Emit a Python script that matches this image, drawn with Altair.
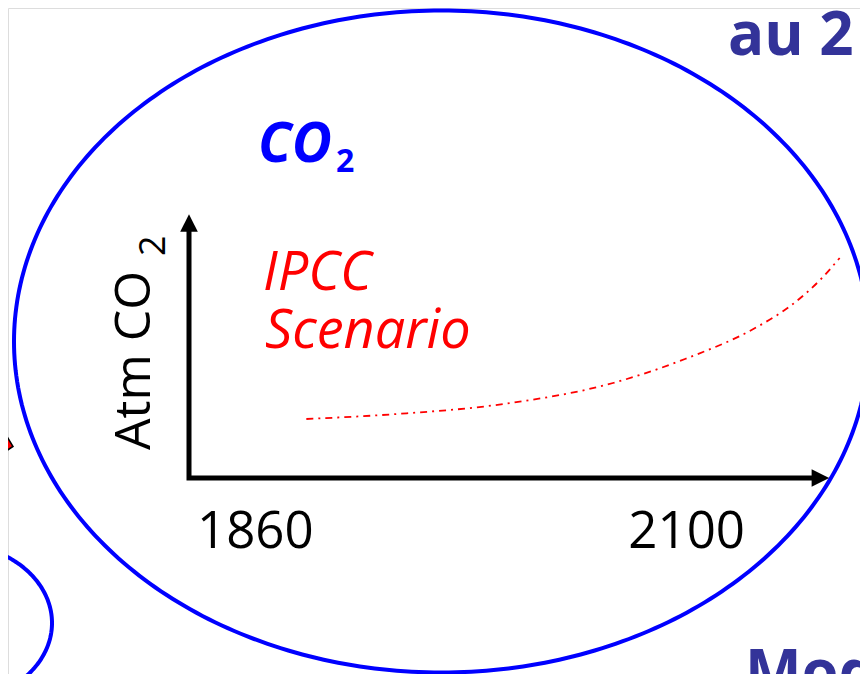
import altair as alt
import numpy as np
import pandas as pd

# ---------------- data ----------------
years = [1904, 1938, 1978, 2019, 2046, 2073, 2086, 2097, 2104]
co2_ppm = [318, 328, 348, 390, 438, 502, 546, 598, 640]
x_tick_labels = ["1860", "2100"]
y_title = ["Atm CO", "2"]
panel_title = ["CO", "2"]
curve_label = ["IPCC", "Scenario"]
slide_fragments = ["au 2", "Mod"]

# ---------------- layout ----------------
W, H = 852, 666
M = 8                      # page margin: reference pixel = chart pixel + M
ORIGIN_PX = (189, 478)     # axis origin in reference pixels
ORIGIN = (1860, 200)       # (year, ppm) at the axis origin
YEARS_PER_PX = 0.375
PPM_PER_PX = 2.0


def year_of(px):
    return ORIGIN[0] + (px - ORIGIN_PX[0]) * YEARS_PER_PX


def ppm_of(py):
    return ORIGIN[1] + (ORIGIN_PX[1] - py) * PPM_PER_PX


xs = alt.Scale(domain=[year_of(M), year_of(M + W)], nice=False, zero=False)
ys = alt.Scale(domain=[ppm_of(M + H), ppm_of(M)], nice=False, zero=False)


def X(f):
    return alt.X(f, type="quantitative", scale=xs, axis=None)


def Y(f):
    return alt.Y(f, type="quantitative", scale=ys, axis=None)


def ellipse(cx, cy, rx, ry, n=361):
    t = np.linspace(0, 2 * np.pi, n)
    return pd.DataFrame({
        "i": np.arange(n),
        "x": [year_of(cx + rx * np.cos(a)) for a in t],
        "y": [ppm_of(cy + ry * np.sin(a)) for a in t],
    })


BLUE = "#0000ff"
NAVY = "#333399"
RED = "#ff0000"
FONT = "Open Sans"

big = alt.Chart(ellipse(441.5, 341.5, 427.5, 331)).mark_line(
    color=BLUE, strokeWidth=4).encode(x=X("x"), y=Y("y"), order="i:Q")
small = alt.Chart(ellipse(-50, 623, 102, 80)).mark_line(
    color=BLUE, strokeWidth=4).encode(x=X("x"), y=Y("y"), order="i:Q")

poly = pd.DataFrame({
    "x": [year_of(0), year_of(13)],
    "y": [ppm_of(425), ppm_of(446.5)],
    "y2": [ppm_of(455), ppm_of(446.5)],
})
red_shape = alt.Chart(poly).mark_area(
    color=RED, stroke="black", strokeWidth=1.5, opacity=1
).encode(x=X("x"), y=Y("y"), y2="y2")

x_end = year_of(815)
y_end = ppm_of(226)
axes_df = pd.DataFrame({
    "i": [0, 1, 2],
    "x": [ORIGIN[0], ORIGIN[0], x_end],
    "y": [y_end, ORIGIN[1], ORIGIN[1]],
})
axes = alt.Chart(axes_df).mark_line(
    color="black", strokeWidth=5, strokeJoin="miter", strokeCap="butt"
).encode(x=X("x"), y=Y("y"), order="i:Q")

up_head = alt.Chart(pd.DataFrame({"x": [ORIGIN[0]], "y": [ppm_of(223)]})).mark_point(
    shape="M0,-1L-1,1L1,1Z", filled=True, color="black", size=310, opacity=1
).encode(x=X("x"), y=Y("y"))
right_head = alt.Chart(pd.DataFrame({"x": [year_of(820.4)], "y": [ORIGIN[1]]})).mark_point(
    shape="M1,0L-1,-1L-1,1Z", filled=True, color="black", size=310, opacity=1
).encode(x=X("x"), y=Y("y"))

curve = alt.Chart(pd.DataFrame({"year": years, "ppm": co2_ppm})).mark_line(
    color=RED, strokeWidth=1.8, strokeDash=[7, 5, 2, 5], interpolate="monotone"
).encode(x=X("year"), y=Y("ppm"))


def label(text, px, py, **kw):
    base = dict(align="left", baseline="alphabetic", font=FONT)
    base.update(kw)
    return alt.Chart(pd.DataFrame({"t": [text]})).mark_text(**base).encode(
        text="t:N", x=alt.value(px - M), y=alt.value(py - M))


texts = [
    label(slide_fragments[0], 728, 55, fontSize=60, fontWeight="bold", color=NAVY),
    label(slide_fragments[1], 745, 693, fontSize=60, fontWeight="bold", color=NAVY),
    label(panel_title[0], 258, 162, fontSize=55, fontWeight="bold", fontStyle="italic", color=BLUE),
    label(panel_title[1], 336, 172, fontSize=32, fontWeight="bold", color=BLUE),
    label(curve_label[0], 263, 290, fontSize=54, fontStyle="italic", color=RED),
    label(curve_label[1], 265, 348, fontSize=54, fontStyle="italic", color=RED),
    label(y_title[0], 150, 450, fontSize=50, angle=270, color="black"),
    label(y_title[1], 165, 256, fontSize=36, angle=270, color="black"),
    label(x_tick_labels[0], 197, 548, fontSize=51, color="black"),
    label(x_tick_labels[1], 745, 548, fontSize=51, color="black", align="right"),
]

chart = alt.layer(
    big, small, red_shape, axes, up_head, right_head, curve, *texts
).properties(
    width=W, height=H, padding=0, autosize=alt.AutoSizeParams(type="none")
).configure_view(stroke="transparent", strokeWidth=0).configure(background="white")

chart.save("out.html", embed_options={"renderer": "svg", "actions": False})
